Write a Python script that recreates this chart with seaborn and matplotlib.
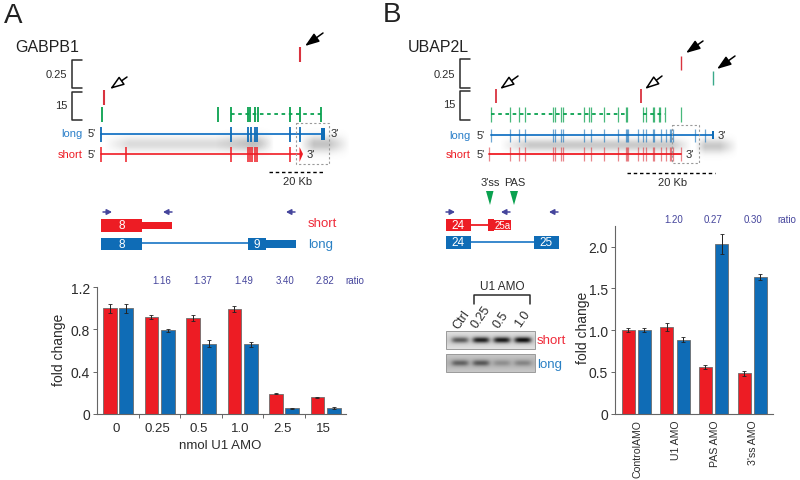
import numpy as np
import pandas as pd
import matplotlib
matplotlib.use('Agg')
import matplotlib.pyplot as plt
from matplotlib.patches import Rectangle, Polygon
import seaborn as sns

RED = '#ed1c24'
BLUE = '#0f6cb6'
GREEN = '#0aa14f'
LINEBLUE = '#2a7fc9'
NAVY = '#45459c'
DARK = '#2b2b2b'

# bar chart data, panel A
doses = ['0', '0.25', '0.5', '1.0', '2.5', '15']
a_short = [1.0, 0.92, 0.91, 0.995, 0.19, 0.155]
a_long = [1.0, 0.79, 0.665, 0.66, 0.05, 0.055]
a_short_err = [0.04, 0.02, 0.03, 0.03, 0.005, 0.005]
a_long_err = [0.04, 0.01, 0.03, 0.025, 0.007, 0.01]
a_ratios = ['1.16', '1.37', '1.49', '3.40', '2.82']

# bar chart data, panel B
treatments = ['ControlAMO', 'U1 AMO', 'PAS AMO', "3'ss AMO"]
b_short = [1.0, 1.035, 0.56, 0.485]
b_long = [1.0, 0.885, 2.03, 1.635]
b_short_err = [0.025, 0.05, 0.02, 0.03]
b_long_err = [0.02, 0.03, 0.12, 0.035]
b_ratios = ['1.20', '0.27', '0.30']

# exon ticks of the gene models, on the page
a_green = [102, 218, 231, 248, 250, 255, 258, 290, 300, 321]
a_long_exons = [101, 231, 248, 250.5, 255, 257, 290, 300]
a_short_exons = [101, 126, 231, 248, 250, 252, 255, 257, 290]
b_green = [491, 510, 519, 525, 553, 555, 561, 563, 584, 589, 591, 604, 618, 626, 627,
           643, 646, 653, 654, 659, 660, 665, 681]
b_long_exons = [491, 510, 519, 525, 553, 555, 561, 563, 584, 591, 604, 618, 626, 627, 628,
                638, 643, 646, 653, 654, 661, 666, 670, 671, 673, 695, 705]
b_short_exons = [489, 510, 519, 525, 553, 555, 561, 563, 584, 591, 604, 618, 626, 627, 628,
                 638, 643, 646, 653, 654, 661, 666, 670, 671, 673, 681]

# band strength on the gel, Ctrl to 1.0
gel_short = [0.45, 0.68, 0.7, 0.75]
gel_long = [0.32, 0.36, 0.14, 0.18]

sns.set_style('ticks')
plt.rcParams['font.family'] = ['Liberation Sans', 'DejaVu Sans']

fig = plt.figure(figsize=(8, 4.81), dpi=100)
page = fig.add_axes([0, 0, 1, 1], zorder=0)
page.set_xlim(0, 800)
page.set_ylim(481, 0)
page.axis('off')


def shadow(x0, x1, yc, sy, strength, fade_l, fade_r):
    xs = np.linspace(x0, x1, 200)
    ys = np.linspace(yc - 3 * sy, yc + 3 * sy, 60)
    fx = np.clip((xs - x0) / fade_l, 0, 1) * np.clip((x1 - xs) / fade_r, 0, 1)
    fy = np.exp(-((ys - yc) / sy) ** 2)
    rgba = np.zeros((60, 200, 4))
    rgba[..., :3] = 0.45
    rgba[..., 3] = strength * np.outer(fy, fx)
    page.imshow(rgba, extent=[x0, x1, ys[-1], ys[0]], aspect='auto', zorder=1)


def gel(x0, x1, y0, y1, bands, centers, bg):
    xs = np.linspace(x0, x1, 180)
    ys = np.linspace(y0, y1, 40)
    img = np.full((40, 180), bg + 0.08)
    img[:, :] -= 0.1 * np.exp(-((ys[:, None] - (y0 + y1) / 2) / 7) ** 2)
    for s, c in zip(bands, centers):
        img -= s * np.outer(np.exp(-((ys - (y0 + y1) / 2) / 3.0) ** 2),
                            np.exp(-((xs - c) / 8.5) ** 4))
    page.imshow(np.clip(img, 0, 1), extent=[x0, x1, y1, y0], aspect='auto',
                cmap='gray', vmin=0, vmax=1, zorder=2)
    page.add_patch(Rectangle((x0, y0), x1 - x0, y1 - y0, fill=False, ec='#9a9a9a', lw=0.7, zorder=3))


def ticks(xs, y0, y1, color, lw=1.3, alpha=1):
    page.vlines(xs, y0, y1, color=color, lw=lw, alpha=alpha, zorder=4)


def scale_bracket(x, y0, y1):
    page.plot([x + 10, x, x, x + 10], [y0, y0, y1, y1], color=DARK, lw=1.1, zorder=4)


def arrow(start, end, filled):
    page.annotate('', xy=end, xytext=start, zorder=5,
                  arrowprops=dict(arrowstyle='-|>,head_width=0.3,head_length=0.85', lw=1.1,
                                  fc='black' if filled else 'white', ec='black',
                                  shrinkA=0, shrinkB=0))


def primer(x0, x1, y):
    page.annotate('', xy=(x1, y), xytext=(x0, y), zorder=5,
                  arrowprops=dict(arrowstyle='-|>,head_width=0.16,head_length=0.3', lw=1.1,
                                  color=NAVY, shrinkA=0, shrinkB=0))


def exon(x0, x1, y0, y1, color, label=None, size=8.5):
    page.add_patch(Rectangle((x0, y0), x1 - x0, y1 - y0, fc=color, ec='none', zorder=4))
    if label:
        page.text((x0 + x1) / 2, (y0 + y1) / 2, label, color='white', fontsize=size,
                  ha='center', va='center', zorder=6)


def label(x, y, s, color=DARK, size=8, ha='center', **kw):
    page.text(x, y, s, color=color, fontsize=size, ha=ha, va='center', zorder=6, **kw)


def dashed_box(x0, x1, y0, y1):
    page.add_patch(Rectangle((x0, y0), x1 - x0, y1 - y0, fill=False, ec='#9a9a9a', lw=0.8,
                             ls=(0, (2, 2)), zorder=5))


# soft shadows behind the gene models
shadow(104, 274, 145, 7, 0.25, 25, 22)
shadow(215, 274, 144, 8, 0.3, 40, 16)
shadow(300, 350, 145, 8, 0.42, 14, 22)
shadow(500, 692, 146, 6, 0.38, 30, 20)
shadow(695, 738, 147, 7, 0.38, 10, 18)

# panel letters and gene names
label(4, 16, 'A', color='#222222', size=20, ha='left')
label(383, 15, 'B', color='#222222', size=20, ha='left')
label(15, 48, 'GABPB1', color='#222222', size=11.5, ha='left')
label(408, 48, 'UBAP2L', color='#222222', size=11.5, ha='left')

# gene model A
scale_bracket(72, 60.5, 89)
scale_bracket(72, 92.5, 121)
label(67, 75, '0.25', ha='right')
label(67, 106, '15', ha='right')
ticks([300], 48, 63, '#d9333f', 1.5)
ticks([104], 91, 106, '#d9333f', 1.5)
arrow((323, 34), (305, 47), True)
arrow((127, 78), (110, 90), False)
page.plot([231, 321], [115, 115], color=GREEN, lw=1.3, ls=(0, (2, 2)), zorder=3)
ticks(a_green, 108, 123, GREEN)
page.plot([101, 322], [135, 135], color=LINEBLUE, lw=1.4, zorder=3)
ticks(a_long_exons, 128, 143, BLUE)
exon(321, 325, 129, 141, BLUE)
page.plot([101, 300], [155, 155], color='#f01c24', lw=1.2, zorder=3)
ticks(a_short_exons, 148, 163, RED, 1.1)
page.add_patch(Polygon([[299.5, 148], [303, 155], [299.5, 163]], fc=RED, ec='none', zorder=4))
label(83, 134, 'long', color=LINEBLUE, ha='right')
label(83, 155, 'short', color=RED, ha='right')
label(96, 134, "5'", ha='right')
label(96, 155, "5'", ha='right')
label(331, 134, "3'", ha='left')
label(307, 155, "3'", ha='left')
dashed_box(296, 329, 124, 165)
page.plot([269, 325], [172.5, 172.5], color='black', lw=1.0, ls=(0, (2.5, 2)), zorder=4)
label(298, 182, '20 Kb')

# transcripts A
primer(103, 112, 213)
primer(172, 163, 213)
primer(295, 286, 213)
exon(101, 142, 220, 232.5, RED, '8')
exon(142, 172, 223, 230, RED)
exon(101, 142, 239, 251, BLUE, '8')
page.plot([142, 248], [244, 244], color=LINEBLUE, lw=1.3, zorder=3)
exon(248, 266, 239, 251, BLUE, '9')
exon(266, 296, 241, 249, BLUE)
label(308, 224, 'short', color='#ef2b3a', size=9.5, ha='left')
label(308, 245, 'long', color='#2a80c4', size=9.5, ha='left')

# gene model B
scale_bracket(460, 60, 88.5)
scale_bracket(460, 92, 120.5)
label(455, 75, '0.25', ha='right')
label(455, 105, '15', ha='right')
ticks([681], 57, 71, '#d9333f', 1.0)
ticks([713], 72, 86, '#3aa98a', 1.0)
ticks([496, 641], 90, 104, '#d9333f', 1.3)
arrow((703, 42), (686, 54), True)
arrow((735, 57), (717, 70), True)
arrow((518, 77), (500, 90), False)
arrow((662, 77), (645, 90), False)
page.plot([491, 627], [115, 115], color=GREEN, lw=1.3, ls=(0, (2, 2)), zorder=3)
page.plot([643, 665], [115, 115], color=GREEN, lw=1.3, ls=(0, (2, 2)), zorder=3)
ticks(b_green, 108, 123, GREEN, 0.9, 0.75)
page.plot([491, 712], [136, 136], color=LINEBLUE, lw=1.4, zorder=3)
ticks(b_long_exons, 130, 143, BLUE, 0.9, 0.6)
exon(712, 714, 132, 140, BLUE)
page.plot([489, 681], [155, 155], color='#f01c24', lw=1.3, zorder=3)
ticks(b_short_exons, 148, 162, '#d8232c', 0.9, 0.55)
label(471, 136, 'long', color=LINEBLUE, ha='right')
label(471, 155, 'short', color=RED, ha='right')
label(485, 136, "5'", ha='right')
label(485, 155, "5'", ha='right')
label(718, 136, "3'", ha='left')
label(686, 155, "3'", ha='left')
dashed_box(672, 699, 126, 164)
page.plot([627, 715], [174, 174], color='black', lw=1.0, ls=(0, (2.5, 2)), zorder=4)
label(673, 183, '20 Kb')

# transcripts B
label(490, 183, "3'ss")
label(515, 183, 'PAS')
page.add_patch(Polygon([[486, 192], [493.5, 192], [490, 206]], fc=GREEN, ec='none', zorder=4))
page.add_patch(Polygon([[510, 192], [518, 192], [514, 206]], fc=GREEN, ec='none', zorder=4))
primer(446, 455, 213)
primer(510, 501, 213)
primer(558, 549, 213)
exon(446, 471, 219.5, 232, RED, '24')
page.plot([471, 488], [225.5, 225.5], color=RED, lw=1.3, zorder=3)
exon(488, 494, 219.5, 232, RED)
exon(494, 511, 221, 231, RED, '25a', 7)
exon(446, 471, 237, 249.5, BLUE, '24')
page.plot([471, 534], [243, 243], color=LINEBLUE, lw=1.3, zorder=3)
exon(534, 559, 237, 249.5, BLUE, '25')

# gel
label(502, 287, 'U1 AMO', size=8.5)
page.plot([473.5, 473.5, 530, 530], [305, 295.5, 295.5, 305], color=DARK, lw=1.1, zorder=4)
for x, y, s in zip([462, 481, 501, 523], [320, 317, 320, 319], ['Ctrl', '0.25', '0.5', '1.0']):
    label(x, y, s, size=9, rotation=55)
gel(446, 535, 332, 350, gel_short, [460, 481, 502, 523], 0.82)
gel(446, 535, 355, 373, gel_long, [460, 481, 502, 523], 0.72)
label(537, 341, 'short', color='#ef2b3a', size=9.5, ha='left')
label(537, 365, 'long', color='#2a80c4', size=9.5, ha='left')


def grouped_bars(rect, cats, short, long_, short_err, long_err, width, gap, xlim, ylim, yticks, ylabels):
    l, t, r, b = rect
    ax = fig.add_axes([l / 800, 1 - b / 481, (r - l) / 800, (b - t) / 481], zorder=2)
    ax.patch.set_alpha(0)
    df = pd.DataFrame({'group': cats * 2,
                       'form': ['short'] * len(cats) + ['long'] * len(cats),
                       'value': short + long_})
    sns.barplot(data=df, x='group', y='value', hue='form', order=cats, hue_order=['short', 'long'],
                palette={'short': RED, 'long': BLUE}, width=width, gap=gap, saturation=1,
                errorbar=None, legend=False, edgecolor='#6d6d6d', linewidth=0.6, ax=ax)
    for bars, vals, errs in zip(ax.containers, [short, long_], [short_err, long_err]):
        xs = [p.get_x() + p.get_width() / 2 for p in bars]
        ax.errorbar(xs, vals, yerr=errs, fmt='none', ecolor='#222222', elinewidth=0.7,
                    capsize=1.3, capthick=0.6, zorder=5)
    ax.set_xlim(*xlim)
    ax.set_ylim(*ylim)
    ax.set_yticks(yticks)
    ax.set_yticklabels(ylabels)
    ax.set_xlabel('')
    ax.set_ylabel('')
    ax.spines[['top', 'right']].set_visible(False)
    ax.spines[['left', 'bottom']].set_color('#666666')
    ax.spines[['left', 'bottom']].set_linewidth(0.8)
    ax.tick_params(axis='y', length=3, width=0.7, color='#666666', labelsize=10, labelcolor=DARK, pad=2)
    return ax


ax_a = grouped_bars((97, 288.3, 346, 414.7), doses, a_short, a_long, a_short_err, a_long_err,
                    0.79, 0.16, (-0.51, 5.49), (0, 1.2), [0, 0.4, 0.8, 1.2], ['0', '0.4', '0.8', '1.2'])
ax_a.set_xticks(np.arange(0.5, 5, 1))
ax_a.set_xticklabels([])
ax_a.tick_params(axis='x', length=3, width=0.7, color='#666666')
for i, s in enumerate(doses):
    ax_a.annotate(s, (i, 0), xytext=(-1.5, -10), textcoords='offset points', ha='center', va='center',
                  fontsize=9.5, color=DARK)

ax_b = grouped_bars((615, 226.7, 772.7, 414.7), treatments, b_short, b_long, b_short_err, b_long_err,
                    0.84, 0.2, (-0.55, 3.53), (0, 2.25), [0, 0.5, 1.0, 1.5, 2.0], ['0', '0.5', '1.0', '1.5', '2.0'])
ax_b.set_xticks(np.arange(4) + 0.03)
ax_b.set_xticklabels(treatments, rotation=90, fontsize=7.6, color=DARK)
ax_b.tick_params(axis='x', length=0, pad=4)

label(59, 350, 'fold change', size=10, rotation=90)
label(220, 446, 'nmol U1 AMO', size=9.5)
label(583, 328, 'fold change', size=10, rotation=90)

for x, s in zip([162, 203, 244, 285, 325], a_ratios):
    label(x, 281, s, color=NAVY, size=7)
label(354.5, 281, 'ratio', color=NAVY, size=7)
for x, s in zip([674, 713, 753], b_ratios):
    label(x, 220, s, color=NAVY, size=7)
label(787, 220, 'ratio', color=NAVY, size=7)

fig.savefig('out.png', dpi=100)
